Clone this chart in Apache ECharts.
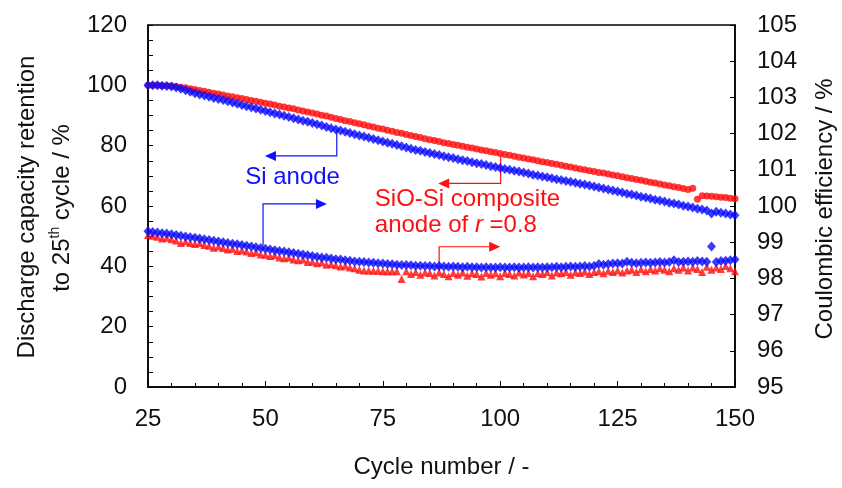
<!DOCTYPE html>
<html>
<head>
<meta charset="utf-8">
<script src="https://cdn.jsdelivr.net/npm/echarts@6/dist/echarts.min.js"></script>
<style>
  html, body { margin: 0; padding: 0; background: #fff; }
  #chart { width: 842px; height: 488px; }
</style>
</head>
<body>
<div id="chart"></div>
<script>
// Cycle numbers run from 25 to 150, one value per cycle.
const FIRST_CYCLE = 25;

// Discharge capacity retention relative to the 25th cycle (%), left axis
const siCapacity = [
  100.0, 100.0, 100.0, 99.9, 99.8, 99.6, 99.3, 98.9, 98.4, 97.9,
  97.4, 97.0, 96.6, 96.2, 95.8, 95.5, 95.1, 94.7, 94.3, 93.9,
  93.5, 93.1, 92.7, 92.3, 91.9, 91.5, 91.1, 90.7, 90.3, 89.9,
  89.5, 89.1, 88.7, 88.3, 87.9, 87.5, 87.1, 86.7, 86.2, 85.8,
  85.4, 85.0, 84.6, 84.2, 83.8, 83.4, 83.0, 82.6, 82.2, 81.8,
  81.4, 81.0, 80.6, 80.2, 79.8, 79.4, 79.0, 78.6, 78.3, 77.9,
  77.6, 77.2, 76.9, 76.5, 76.2, 75.9, 75.5, 75.2, 74.9, 74.5,
  74.2, 73.9, 73.6, 73.2, 72.9, 72.6, 72.3, 72.0, 71.7, 71.4,
  71.1, 70.8, 70.4, 70.1, 69.8, 69.5, 69.2, 68.9, 68.6, 68.3,
  68.0, 67.7, 67.4, 67.1, 66.8, 66.5, 66.1, 65.8, 65.5, 65.1,
  64.8, 64.5, 64.1, 63.8, 63.5, 63.1, 62.8, 62.5, 62.1, 61.8,
  61.5, 61.1, 60.8, 60.5, 60.1, 59.8, 59.5, 59.1, 58.8, 58.5,
  57.5, 58.1, 57.8, 57.5, 57.2, 56.9
];
const sioCapacity = [
  100.0, 100.0, 100.0, 99.9, 99.9, 99.8, 99.6, 99.4, 99.2, 98.9,
  98.6, 98.3, 98.0, 97.7, 97.4, 97.1, 96.8, 96.5, 96.2, 95.9,
  95.6, 95.3, 95.0, 94.7, 94.4, 94.1, 93.8, 93.5, 93.1, 92.8,
  92.5, 92.2, 91.8, 91.5, 91.2, 90.8, 90.5, 90.1, 89.8, 89.4,
  89.0, 88.7, 88.3, 88.0, 87.6, 87.3, 86.9, 86.5, 86.2, 85.8,
  85.5, 85.1, 84.8, 84.4, 84.1, 83.7, 83.4, 83.0, 82.7, 82.3,
  82.0, 81.7, 81.4, 81.0, 80.7, 80.4, 80.1, 79.8, 79.5, 79.2,
  78.9, 78.6, 78.3, 78.0, 77.7, 77.4, 77.1, 76.8, 76.5, 76.2,
  75.9, 75.6, 75.3, 75.0, 74.7, 74.4, 74.1, 73.8, 73.5, 73.2,
  72.9, 72.6, 72.3, 72.0, 71.7, 71.4, 71.1, 70.9, 70.6, 70.3,
  70.0, 69.7, 69.4, 69.1, 68.8, 68.5, 68.2, 67.9, 67.6, 67.3,
  67.0, 66.7, 66.4, 66.1, 65.8, 65.5, 65.9, 62.2, 63.4, 63.3,
  63.2, 63.1, 62.9, 62.8, 62.6, 62.4
];

// Coulombic efficiency (%), right axis
const siEfficiency = [
  99.30, 99.28, 99.27, 99.25, 99.24, 99.22, 99.20, 99.18, 99.16, 99.14,
  99.12, 99.10, 99.08, 99.06, 99.04, 99.02, 99.00, 98.98, 98.96, 98.94,
  98.92, 98.90, 98.88, 98.86, 98.84, 98.82, 98.80, 98.78, 98.76, 98.74,
  98.72, 98.70, 98.68, 98.66, 98.64, 98.62, 98.60, 98.58, 98.57, 98.55,
  98.53, 98.52, 98.50, 98.49, 98.47, 98.46, 98.45, 98.44, 98.43, 98.42,
  98.41, 98.40, 98.39, 98.38, 98.37, 98.37, 98.36, 98.35, 98.35, 98.34,
  98.34, 98.33, 98.34, 98.33, 98.32, 98.33, 98.32, 98.31, 98.32, 98.31,
  98.31, 98.30, 98.31, 98.30, 98.30, 98.31, 98.30, 98.30, 98.31, 98.30,
  98.30, 98.31, 98.30, 98.31, 98.30, 98.31, 98.31, 98.32, 98.31, 98.32,
  98.33, 98.32, 98.33, 98.34, 98.33, 98.35, 98.40, 98.38, 98.40, 98.41,
  98.42, 98.41, 98.46, 98.43, 98.42, 98.43, 98.44, 98.43, 98.44, 98.45,
  98.44, 98.45, 98.50, 98.45, 98.46, 98.47, 98.46, 98.48, 98.47, 98.46,
  98.88, 98.45, 98.48, 98.49, 98.50, 98.52
];
const sioEfficiency = [
  99.20, 99.18, 99.15, 99.10, 99.12, 99.08, 99.05, 98.98, 99.02, 98.98,
  98.95, 98.98, 98.92, 98.90, 98.85, 98.88, 98.84, 98.80, 98.82, 98.76,
  98.78, 98.74, 98.70, 98.72, 98.66, 98.65, 98.62, 98.64, 98.58, 98.56,
  98.58, 98.52, 98.50, 98.52, 98.45, 98.46, 98.42, 98.44, 98.38, 98.40,
  98.36, 98.33, 98.35, 98.30, 98.28, 98.24, 98.22, 98.22, 98.21, 98.21,
  98.20, 98.20, 98.20, 98.20, 97.98, 98.20, 98.12, 98.18, 98.10, 98.16,
  98.15, 98.08, 98.16, 98.12, 98.06, 98.15, 98.10, 98.16, 98.07, 98.14,
  98.12, 98.05, 98.15, 98.10, 98.14, 98.06, 98.15, 98.12, 98.08, 98.16,
  98.11, 98.15, 98.06, 98.14, 98.12, 98.17, 98.08, 98.16, 98.14, 98.18,
  98.10, 98.17, 98.15, 98.19, 98.12, 98.18, 98.20, 98.14, 98.21, 98.18,
  98.22, 98.16, 98.22, 98.24, 98.18, 98.25, 98.20, 98.26, 98.22, 98.28,
  98.24, 98.20, 98.28, 98.24, 98.30, 98.22, 98.30, 98.26, 98.18, 98.32,
  98.24, 98.30, 98.26, 98.34, 98.28, 98.20
];

// Axis ranges
const cycleRange = { min: 25, max: 150, step: 25 };
const capacityRange = { min: 0, max: 120, step: 20 };
const efficiencyRange = { min: 95, max: 105, step: 1 };

// Callout connectors, in (cycle, capacity %) coordinates; the arrow head sits at the last point
const callouts = [
  { color: '#1010ff', points: [[65.2, 85.4], [65.2, 76.6], [49.9, 76.6]] },
  { color: '#1010ff', points: [[49.5, 46.9], [49.5, 60.7], [63.1, 60.7]] },
  { color: '#ff1010', points: [[100.1, 76.6], [100.1, 67.5], [86.8, 67.5]] },
  { color: '#ff1010', points: [[87.0, 38.4], [87.0, 46.5], [100.0, 46.5]] }
];
const calloutLabels = [
  { color: '#1010ff', at: [45.7, 69.4], text: 'Si anode' },
  { color: '#ff1010', at: [73.3, 58.0], text: 'SiO-Si composite\nanode of {it|r} =0.8' }
];

const FONT = '"Liberation Sans", Arial, Helvetica, sans-serif';
const INK = '#111';

function pairs(values) {
  return values.map((v, i) => [FIRST_CYCLE + i, v]);
}

const chart = echarts.init(document.getElementById('chart'), null, { renderer: 'canvas' });

const tickLabel = { fontSize: 24, color: INK, fontFamily: FONT };

chart.setOption({
  animation: false,
  backgroundColor: '#fff',
  grid: {
    left: 148, right: 107, top: 25, bottom: 101,
    show: true, borderColor: '#000', borderWidth: 1.5, backgroundColor: 'transparent'
  },
  xAxis: {
    type: 'value',
    min: cycleRange.min, max: cycleRange.max, interval: cycleRange.step,
    axisLine: { lineStyle: { color: '#000', width: 1.5 } },
    axisTick: { inside: true, length: 6, lineStyle: { color: '#000', width: 1 } },
    minorTick: { show: true, splitNumber: 5, length: 4, lineStyle: { color: '#000', width: 1 } },
    splitLine: { show: false },
    axisLabel: Object.assign({ margin: 20 }, tickLabel)
  },
  yAxis: [
    {
      type: 'value', position: 'left',
      min: capacityRange.min, max: capacityRange.max, interval: capacityRange.step,
      axisLine: { show: true, lineStyle: { color: '#000', width: 1.5 } },
      axisTick: { show: true, inside: true, length: 5, lineStyle: { color: '#000', width: 1 } },
      minorTick: { show: true, splitNumber: 4, length: 5, lineStyle: { color: '#000', width: 1 } },
      splitLine: { show: false },
      axisLabel: Object.assign({ margin: 21 }, tickLabel)
    },
    {
      type: 'value', position: 'right',
      min: efficiencyRange.min, max: efficiencyRange.max, interval: efficiencyRange.step,
      axisLine: { show: true, lineStyle: { color: '#000', width: 1.5 } },
      axisTick: { show: true, inside: true, length: 5, lineStyle: { color: '#000', width: 1 } },
      splitLine: { show: false },
      axisLabel: Object.assign({ margin: 22 }, tickLabel)
    }
  ],
  series: [
    {
      name: 'SiO-Si capacity', type: 'scatter', yAxisIndex: 0,
      data: pairs(sioCapacity), symbol: 'circle', symbolSize: 7,
      itemStyle: { color: '#ff0a0a' }
    },
    {
      name: 'Si capacity', type: 'scatter', yAxisIndex: 0,
      data: pairs(siCapacity), symbol: 'diamond', symbolSize: [9, 10],
      itemStyle: { color: '#0a0aff' }
    },
    {
      name: 'SiO-Si efficiency', type: 'scatter', yAxisIndex: 1,
      data: pairs(sioEfficiency), symbol: 'triangle', symbolSize: 8,
      itemStyle: { color: '#ff0a0a' }
    },
    {
      name: 'Si efficiency', type: 'scatter', yAxisIndex: 1,
      data: pairs(siEfficiency), symbol: 'diamond', symbolSize: [9, 10],
      itemStyle: { color: '#0a0aff' }
    }
  ]
});

// Axis titles and callouts
function toPx(pt) {
  return chart.convertToPixel({ xAxisIndex: 0, yAxisIndex: 0 }, pt);
}

const graphics = [];

// Left axis title (two lines, rotated)
graphics.push({
  type: 'text', x: 27, y: 207, rotation: Math.PI / 2,
  style: { text: 'Discharge capacity retention', fontSize: 24, fontFamily: FONT, fill: INK,
           align: 'center', verticalAlign: 'middle' }
});
graphics.push({
  type: 'text', x: 62, y: 208, rotation: Math.PI / 2,
  style: {
    text: '{n|to 25}{sup|th}{n| cycle / %}',
    align: 'center', verticalAlign: 'middle', fontFamily: FONT, fill: INK,
    rich: {
      n: { fontSize: 24, fontFamily: FONT, fill: INK, lineHeight: 28 },
      sup: { fontSize: 14, fontFamily: FONT, fill: INK, verticalAlign: 'top', lineHeight: 14 }
    }
  }
});
// Right axis title
graphics.push({
  type: 'text', x: 825, y: 209, rotation: Math.PI / 2,
  style: { text: 'Coulombic efficiency / %', fontSize: 24, fontFamily: FONT, fill: INK,
           align: 'center', verticalAlign: 'middle' }
});
// Bottom axis title
graphics.push({
  type: 'text', x: 441.5, y: 467,
  style: { text: 'Cycle number / -', fontSize: 24, fontFamily: FONT, fill: INK,
           align: 'center', verticalAlign: 'middle' }
});

// Callout connectors with filled arrow heads
callouts.forEach(c => {
  const px = c.points.map(toPx);
  const tip = px[px.length - 1];
  const prev = px[px.length - 2];
  const dx = tip[0] - prev[0], dy = tip[1] - prev[1];
  const len = Math.hypot(dx, dy) || 1;
  const ux = dx / len, uy = dy / len;
  const headLen = 11, headHalf = 5;
  const base = [tip[0] - ux * headLen, tip[1] - uy * headLen];
  const linePts = px.slice(0, -1).concat([base]);
  graphics.push({
    type: 'polyline', shape: { points: linePts },
    style: { stroke: c.color, lineWidth: 1.2, fill: null }
  });
  graphics.push({
    type: 'polygon',
    shape: { points: [tip, [base[0] - uy * headHalf, base[1] + ux * headHalf], [base[0] + uy * headHalf, base[1] - ux * headHalf]] },
    style: { fill: c.color, stroke: null }
  });
});

// Callout labels
calloutLabels.forEach(l => {
  const p = toPx(l.at);
  graphics.push({
    type: 'text', x: p[0], y: p[1],
    style: {
      text: l.text, fontSize: 24, fontFamily: FONT, fill: l.color,
      align: 'left', verticalAlign: 'middle', lineHeight: 26,
      rich: { it: { fontSize: 24, fontFamily: FONT, fill: l.color, fontStyle: 'italic', lineHeight: 26 } }
    }
  });
});

chart.setOption({ graphic: graphics });
</script>
</body>
</html>
